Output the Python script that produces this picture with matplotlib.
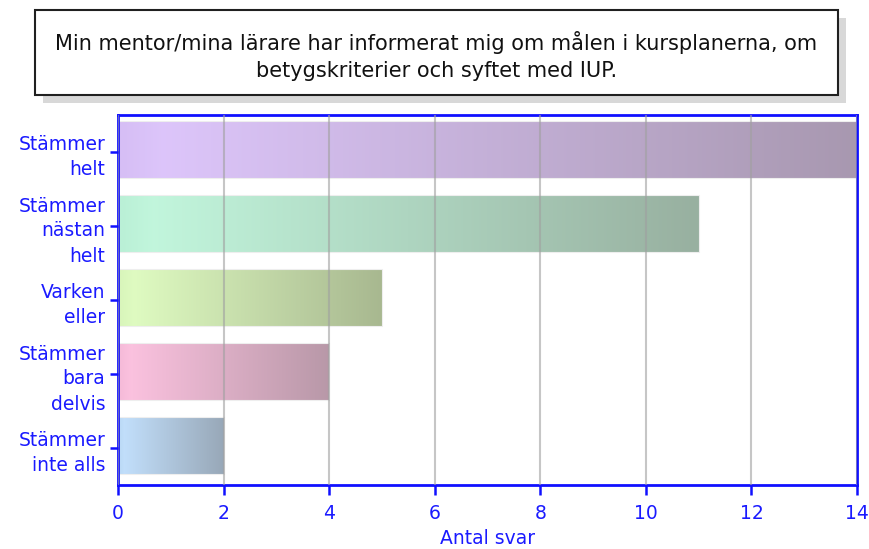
import matplotlib.pyplot as plt
import numpy as np
from matplotlib.colors import to_rgb
from matplotlib.patches import Rectangle

categories = ["Stämmer\nhelt", "Stämmer\nnästan\nhelt", "Varken\neller",
              "Stämmer\nbara\ndelvis", "Stämmer\ninte alls"]
values = [14, 11, 5, 4, 2]
start_colors = ["#e0c8ff", "#c4fae0", "#e2ffc4", "#ffc4e2", "#c4e2ff"]
end_colors = ["#a898b0", "#98b0a0", "#a8b890", "#b898a8", "#98a8b8"]
title = ("Min mentor/mina lärare har informerat mig om målen i kursplanerna, om\n"
         "betygskriterier och syftet med IUP.")
xlabel = "Antal svar"
xticks = [0, 2, 4, 6, 8, 10, 12, 14]

W, H = 869, 549
fig = plt.figure(figsize=(W / 100, H / 100), dpi=100)

# title box with shadow
sx0, sy0, sx1, sy1 = 35, 10, 838, 95
fig.patches.append(Rectangle(((sx0 + 8) / W, 1 - (sy1 + 8) / H), (sx1 - sx0) / W,
                             (sy1 - sy0) / H, transform=fig.transFigure,
                             facecolor="#d8d8d8", edgecolor="none", zorder=0))
fig.patches.append(Rectangle((sx0 / W, 1 - sy1 / H), (sx1 - sx0) / W,
                             (sy1 - sy0) / H, transform=fig.transFigure,
                             facecolor="white", edgecolor="#202020", lw=1.5, zorder=1))
fig.text((sx0 + sx1) / 2 / W, 1 - 56 / H, title, ha="center", va="center",
         fontsize=15, linespacing=1.4, color="#111111", zorder=2)

left, right, top, bottom = 118, 857, 115, 485
ax = fig.add_axes([left / W, 1 - bottom / H, (right - left) / W, (bottom - top) / H])

y = np.arange(len(categories))
bar_h = 0.77
bars = ax.barh(y - 0.03, values, height=bar_h, facecolor="none", edgecolor="#eeeeee",
               lw=0.8, zorder=2)

for rect, c0, c1 in zip(bars, start_colors, end_colors):
    a = np.array(to_rgb(c0))
    b = np.array(to_rgb(c1))
    t = np.linspace(0, 1, 256)[:, None]
    grad = a + (b - a) * t
    # slight darkening at the very left edge
    dip = np.clip(1 - t / 0.06, 0, 1) * 0.04
    grad = np.clip(grad - dip, 0, 1)
    x0, y0 = rect.get_x(), rect.get_y()
    ax.imshow(grad[None, :, :], extent=[x0, x0 + rect.get_width(), y0, y0 + rect.get_height()],
              aspect="auto", zorder=1, interpolation="bilinear")

ax.set_xlim(0, 14)
ax.set_ylim(len(categories) - 0.5, -0.5)
ax.set_xticks(xticks)
ax.set_yticks(y)
ax.set_yticklabels(categories, linespacing=1.4)
ax.grid(axis="x", color="#a0a0a0", lw=1.5, alpha=0.6, zorder=3)
ax.set_axisbelow(False)
for s in ax.spines.values():
    s.set_color("#1010ff")
    s.set_linewidth(2)
ax.tick_params(colors="#1010ff", labelcolor="#1a1aff", labelsize=13.5, width=1.8, length=7)
ax.tick_params(axis="x", pad=7)
ax.tick_params(axis="y", pad=3, length=6)
ax.set_xlabel(xlabel, color="#1a1aff", fontsize=13.5, labelpad=4)

fig.savefig("out.png", dpi=100)
